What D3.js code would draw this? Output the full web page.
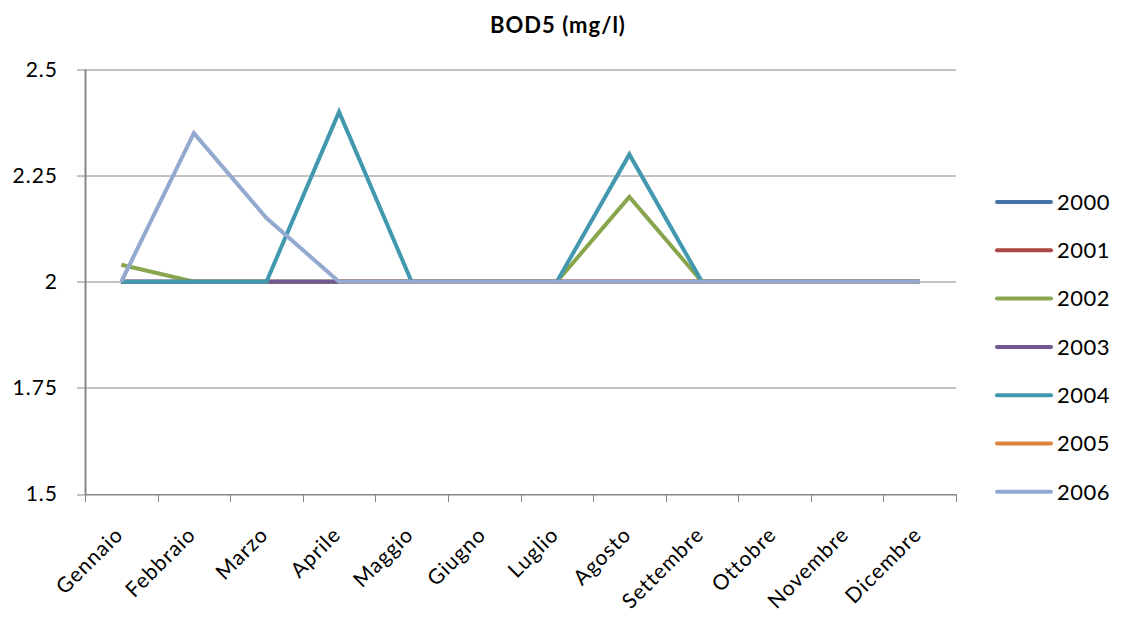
<!DOCTYPE html>
<html>
<head>
<meta charset="utf-8">
<script src="https://cdn.jsdelivr.net/npm/d3@7"></script>
<style>
body { margin: 0; background: #fff; }
text { font-family: Lato, "Open Sans", sans-serif; fill: #000; }
</style>
</head>
<body>
<svg width="1121" height="623"></svg>
<script>
var mesi = ["Gennaio", "Febbraio", "Marzo", "Aprile", "Maggio", "Giugno", "Luglio",
            "Agosto", "Settembre", "Ottobre", "Novembre", "Dicembre"];
var anni = ["2000", "2001", "2002", "2003", "2004", "2005", "2006"];
var colori = ["#4572A7", "#AA4643", "#89A54E", "#71588F", "#4198AF", "#DB843D", "#93A9CF"];
var yTicks = [1.5, 1.75, 2, 2.25, 2.5];

var v2000 = [2, 2, 2, 2, 2, 2, 2, 2, 2, 2, 2, 2];
var v2001 = [2, 2, 2, 2, 2, 2, 2, 2, 2, 2, 2, 2];
var v2002 = [2.04, 2, 2, 2, 2, 2, 2, 2.2, 2, 2, 2, 2];
var v2003 = [2, 2, 2, 2, 2, 2, 2, 2, 2, 2, 2, 2];
var v2004 = [2, 2, 2, 2.4, 2, 2, 2, 2.3, 2, 2, 2, 2];
var v2005 = [null, null, null, 2, 2, 2, 2, 2, 2, 2, 2, 2];
var v2006 = [2, 2.35, 2.15, 2, 2, 2, 2, 2, 2, 2, 2, 2];

var serie = [v2000, v2001, v2002, v2003, v2004, v2005, v2006].map(function(v, i) {
    return {id: anni[i], color: colori[i], values: v};
});

var svg = d3.select("svg");
var margin = {top: 69.5, left: 85, right: 165, bottom: 129};
var width = 1121 - margin.left - margin.right;
var height = 623 - margin.top - margin.bottom;
var g = svg.append("g").attr("transform", "translate(" + margin.left + "," + margin.top + ")");

var x = d3.scaleBand().domain(mesi).range([0, width]);
var y = d3.scaleLinear().domain([1.5, 2.5]).range([height, 0]);

// griglia orizzontale
g.selectAll(".grid").data(yTicks).enter().append("line")
    .attr("x1", -8).attr("x2", width)
    .attr("y1", function(d) { return Math.round(y(d)) + 0.5; })
    .attr("y2", function(d) { return Math.round(y(d)) + 0.5; })
    .attr("stroke", "#868686").attr("stroke-width", 1);

g.selectAll(".ylab").data(yTicks).enter().append("text")
    .attr("x", -27).attr("y", function(d) { return y(d); })
    .attr("dy", "0.35em")
    .attr("text-anchor", "end")
    .style("font-size", "21px").style("letter-spacing", "1px")
    .text(function(d) { return d; });

// asse y
g.append("line").attr("x1", 0.5).attr("x2", 0.5).attr("y1", 0).attr("y2", height)
    .attr("stroke", "#868686").attr("stroke-width", 2);

// asse x
g.append("line").attr("x1", 0).attr("x2", width)
    .attr("y1", height + 0.5).attr("y2", height + 0.5)
    .attr("stroke", "#868686").attr("stroke-width", 1);
var bordi = d3.range(mesi.length + 1).map(function(i) { return i * x.step(); });
g.selectAll(".xtick").data(bordi).enter().append("line")
    .attr("x1", function(d) { return Math.round(d) + 0.5; })
    .attr("x2", function(d) { return Math.round(d) + 0.5; })
    .attr("y1", height).attr("y2", height + 8)
    .attr("stroke", "#868686").attr("stroke-width", 1);

g.selectAll(".xlab").data(mesi).enter().append("text")
    .attr("transform", function(d) {
        return "translate(" + (x(d) + x.bandwidth() / 2 + 3) + "," + (height + 42) + ") rotate(-45)";
    })
    .attr("text-anchor", "end")
    .style("font-size", "21px").style("letter-spacing", "1px")
    .text(function(d) { return d; });

var line = d3.line()
    .defined(function(d) { return d != null; })
    .x(function(d, i) { return x(mesi[i]) + x.bandwidth() / 2; })
    .y(function(d) { return y(d); });

g.selectAll(".serie").data(serie).enter().append("path")
    .attr("d", function(d) { return line(d.values); })
    .attr("fill", "none")
    .attr("stroke", function(d) { return d.color; })
    .attr("stroke-width", 4)
    .attr("stroke-linejoin", "miter");

// titolo
svg.append("text")
    .attr("x", 558).attr("y", 33)
    .attr("text-anchor", "middle")
    .style("font-size", "22px").style("font-weight", "bold").style("letter-spacing", "1px")
    .text("BOD5 (mg/l)");

// legenda
var leg = svg.selectAll(".leg").data(serie).enter().append("g")
    .attr("transform", function(d, i) { return "translate(997," + (202 + i * 48.3) + ")"; });
leg.append("line").attr("x1", 0).attr("x2", 54).attr("y1", 0).attr("y2", 0)
    .attr("stroke", function(d) { return d.color; })
    .attr("stroke-width", 4).attr("stroke-linecap", "round");
leg.append("text").attr("x", 60).attr("dy", "0.35em")
    .style("font-size", "22px").style("letter-spacing", "0.5px")
    .text(function(d) { return d.id; });
</script>
</body>
</html>
